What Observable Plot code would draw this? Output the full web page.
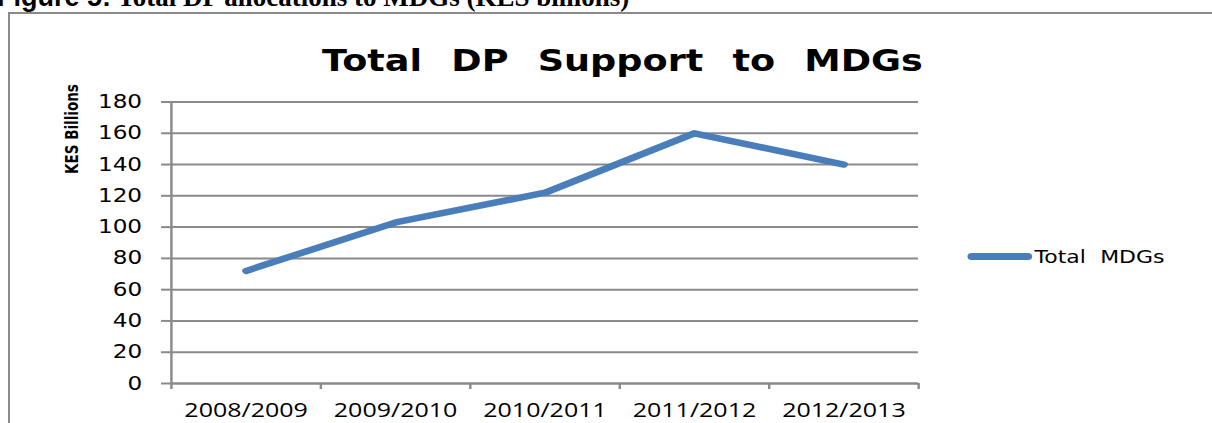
<!DOCTYPE html>
<html>
<head>
<meta charset="utf-8">
<script src="https://cdn.jsdelivr.net/npm/d3@7"></script>
<script src="https://cdn.jsdelivr.net/npm/@observablehq/plot@0.6"></script>
<style>
  html, body { margin: 0; padding: 0; background: #fff; width: 1212px; height: 423px; overflow: hidden; position: relative; }
  #caption { position: absolute; left: -3px; top: -16px; white-space: nowrap; font-size: 27px; font-weight: bold; line-height: 27px; }
  #caption .a { font-family: "Liberation Sans", sans-serif; }
  #caption .b { font-family: "Liberation Serif", serif; }
  #frame { position: absolute; left: 8px; top: 12px; width: 1300px; height: 500px; border-left: 2px solid #8a8a8a; border-top: 2px solid #8a8a8a; }
  /* the reference chart is a horizontally stretched picture: draw at 1/1.22 width and stretch */
  #stage { position: absolute; left: 0; top: 0; width: 993px; height: 423px; transform: scaleX(1.22); transform-origin: 0 0; }
  #title { position: absolute; left: 264px; top: 43px; white-space: nowrap; font-family: "DejaVu Sans", sans-serif; font-weight: bold; font-size: 30px; word-spacing: 13.5px; }
  #ylabel { position: absolute; left: 59px; top: 129px; transform: translate(-50%, -50%) rotate(-90deg); font-family: "DejaVu Sans Condensed", "DejaVu Sans", sans-serif; font-weight: bold; font-size: 15px; white-space: nowrap; }
  #legend { position: absolute; left: 793px; top: 246px; display: flex; align-items: center; font-family: "DejaVu Sans", sans-serif; font-size: 18px; word-spacing: 6px; }
  #legend .sw { width: 53px; height: 7px; border-radius: 4px; background: #4a7ebb; margin-right: 2px; }
  #chart { position: absolute; left: 0; top: 0; }
</style>
</head>
<body>
<div id="frame"></div>
<div id="caption"><span class="a">Figure 5:</span><span class="b"> Total DP allocations to MDGs (KES billions)</span></div>
<div id="stage">
  <div id="chart"></div>
  <div id="title">Total DP Support to MDGs</div>
  <div id="ylabel">KES Billions</div>
  <div id="legend"><div class="sw"></div><span>Total MDGs</span></div>
</div>
<script>
const years = ["2008/2009", "2009/2010", "2010/2011", "2011/2012", "2012/2013"];
const totalMDGs = [72, 103, 122, 160, 140];
const yTicks = [0, 20, 40, 60, 80, 100, 120, 140, 160, 180];

const data = years.map((y, i) => ({idx: i + 0.5, year: y, value: totalMDGs[i]}));
const bounds = d3.range(years.length + 1);

const chart = Plot.plot({
  width: 993,
  height: 423,
  marginLeft: 140,
  marginRight: 240.5,
  marginTop: 101.5,
  marginBottom: 40,
  style: {background: "transparent", overflow: "visible"},
  x: {type: "linear", domain: [0, years.length]},
  y: {domain: [0, 180]},
  marks: [
    Plot.gridY(yTicks, {stroke: "#8a8a8a", strokeOpacity: 1, strokeWidth: 2}),
    Plot.axisY({ticks: yTicks, tickSize: 8, tickPadding: 16, stroke: "#8a8a8a", strokeWidth: 2,
      tickFormat: d => String(d), fontSize: 19, fontFamily: "DejaVu Sans", fill: "#000", label: null}),
    Plot.ruleX([0], {stroke: "#8a8a8a", strokeWidth: 2}),
    Plot.ruleY([0], {stroke: "#8a8a8a", strokeWidth: 2}),
    Plot.axisX({ticks: bounds, tickSize: 6, tickFormat: () => "", stroke: "#8a8a8a", strokeWidth: 2, label: null}),
    Plot.axisX({ticks: data.map(d => d.idx), tickSize: 0, tickPadding: 19, tickFormat: (d) => years[Math.floor(d)],
      fontSize: 20.5, fontFamily: "Open Sans", fill: "#000", label: null}),
    Plot.line(data, {x: "idx", y: "value", stroke: "#4a7ebb", strokeWidth: 6.5, strokeLinecap: "round", strokeLinejoin: "round"})
  ]
});
document.getElementById("chart").appendChild(chart);
</script>
</body>
</html>
